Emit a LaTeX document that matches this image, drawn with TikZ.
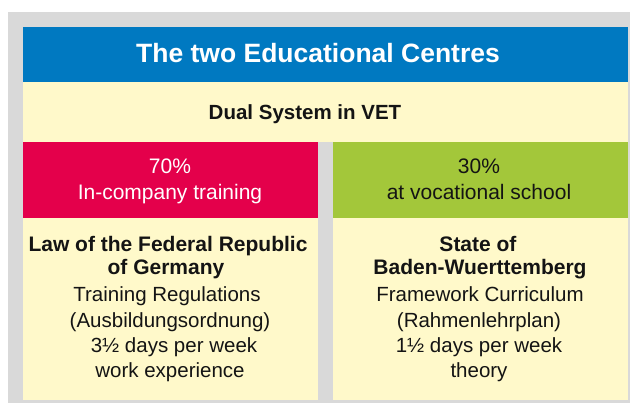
\documentclass[tikz,border=0pt]{standalone}
\usepackage{fontspec}
\setmainfont{Liberation Sans}
\definecolor{framegray}{RGB}{217,217,217}
\definecolor{headblue}{RGB}{0,121,193}
\definecolor{panelcream}{RGB}{255,249,202}
\definecolor{boxred}{RGB}{228,0,75}
\definecolor{boxgreen}{RGB}{163,199,58}
\definecolor{textdark}{RGB}{20,20,20}
\begin{document}
\begin{tikzpicture}[x=1pt,y=1pt,
  panel/.style={draw=none,inner sep=0pt,outer sep=0pt,anchor=south west},
  lbl/.style={inner sep=0pt,anchor=base,text=textdark},
  titletext/.style={lbl,text=white,font=\fontsize{26.5}{30}\bfseries\selectfont},
  subtext/.style={lbl,font=\fontsize{20.5}{24}\bfseries\selectfont},
  pcttext/.style={lbl,font=\fontsize{21}{24}\selectfont},
  headtext/.style={lbl,font=\fontsize{21}{24}\bfseries\selectfont},
  bodytext/.style={lbl,font=\fontsize{20.5}{24}\selectfont}]
\useasboundingbox (0,0) rectangle (630,403);
% frame
\node[panel,fill=framegray,minimum width=622pt,minimum height=391pt] (frame) at (8,0) {};
% header
\node[panel,fill=headblue,minimum width=605pt,minimum height=55pt] (head) at (23,321) {};
\node[panel,fill=panelcream,minimum width=605pt,minimum height=60pt] (dual) at (23,261) {};
\node[panel,fill=boxred,minimum width=295pt,minimum height=76pt] (red) at (23,185) {};
\node[panel,fill=boxgreen,minimum width=295pt,minimum height=76pt] (green) at (333,185) {};
\node[panel,fill=panelcream,minimum width=295pt,minimum height=182pt] (left) at (23,3) {};
\node[panel,fill=panelcream,minimum width=295pt,minimum height=182pt] (right) at (333,3) {};
% texts
\node[titletext] (title) at (318,340.7) {The two Educational Centres};
\node[subtext] (dualtxt) at (305,283.5) {Dual System in VET};
\node[pcttext,text=white] (redA) at (170,229.7) {70\%};
\node[pcttext,text=white] (redB) at (170,203) {In-company training};
\node[pcttext] (greenA) at (479,229.7) {30\%};
\node[pcttext] (greenB) at (479,203) {at vocational school};
% left column
\node[headtext] (l1) at (168,151.3) {Law of the Federal Republic};
\node[headtext] (l2) at (166,128) {of Germany};
\node[bodytext] (l3) at (167,101.3) {Training Regulations};
\node[bodytext] (l4) at (170,75) {(Ausbildungsordnung)};
\node[bodytext] (l5) at (174,50) {3½ days per week};
\node[bodytext] (l6) at (170,25) {work experience};
% right column
\node[headtext] (r1) at (478,151.3) {State of};
\node[headtext] (r2) at (480,128) {Baden-Wuerttemberg};
\node[bodytext] (r3) at (480,101.3) {Framework Curriculum};
\node[bodytext] (r4) at (479,75) {(Rahmenlehrplan)};
\node[bodytext] (r5) at (479,50) {1½ days per week};
\node[bodytext] (r6) at (479,25) {theory};
\end{tikzpicture}
\end{document}
